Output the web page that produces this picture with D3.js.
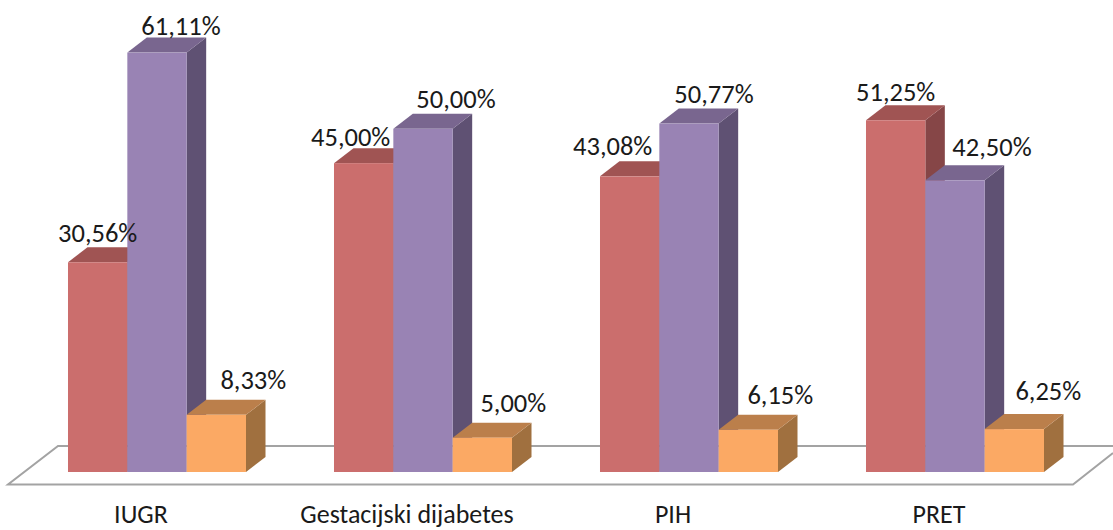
<!DOCTYPE html>
<html><head><meta charset="utf-8">
<style>html,body{margin:0;padding:0;background:#fff}svg{display:block}</style>
<script src="https://cdn.jsdelivr.net/npm/d3@7/dist/d3.min.js"></script></head>
<body><svg id="c" width="1113" height="530"></svg>
<script>
const categories = ["IUGR","Gestacijski dijabetes","PIH","PRET"];
const seriesNames = ["A","B","C"];
const seriesA = [30.56,45.00,43.08,51.25];
const seriesB = [61.11,50.00,50.77,42.50];
const seriesC = [8.33,5.00,6.15,6.25];
const seriesValues = [seriesA,seriesB,seriesC];
const faceColors = ["#cb6e6d","#9983b4","#fba964"];
const topColors = ["#a05453","#79668f","#bb7f4b"];
const sideColors = ["#864647","#5f5173","#a0703f"];

const svg = d3.select("#c");
const x = d3.scaleBand().domain(categories).range([24,1088]).paddingInner(0.3308).paddingOuter(0.1654);
const inner = d3.scaleBand().domain(seriesNames).range([0,x.bandwidth()]);
const y = d3.scaleLinear().domain([0,61.11]).range([472,52.6]);
const dx = 19.5, dy = -15;
const font = "Carlito, 'Open Sans', 'Noto Sans', sans-serif";

// floor
svg.append("path")
  .attr("d","M1113,446H58L8,484.5H1073L1113,453")
  .attr("fill","none").attr("stroke","#a3a3a3").attr("stroke-width",2);

// bars
categories.forEach((c,ci)=>{
  seriesNames.forEach((s,si)=>{
    const v = seriesValues[si][ci];
    const x0 = x(c)+inner(s), w = inner.bandwidth(), x1 = x0+w, yt = y(v), yb = y(0);
    const g = svg.append("g");
    g.append("path").attr("d",d3.line()([[x1,yt],[x1+dx,yt+dy],[x1+dx,yb+dy],[x1,yb]])).attr("fill",sideColors[si]);
    g.append("path").attr("d",d3.line()([[x0,yt],[x0+dx,yt+dy],[x1+dx,yt+dy],[x1,yt]])).attr("fill",topColors[si]);
    g.append("rect").attr("x",x0).attr("y",yt).attr("width",w).attr("height",yb-yt).attr("fill",faceColors[si]);
  });
});

// value labels: offset from the top-centre of each bar's front face
const labelDx = [[0,24,37],[-13,33,31],[-17,25,32],[0,37,34]];
const labelDy = [[-20,-18,-26],[-17,-21,-26],[-21,-21,-26],[-19,-24,-29]];
categories.forEach((c,ci)=>{
  seriesNames.forEach((s,si)=>{
    const v = seriesValues[si][ci];
    svg.append("text")
      .attr("x",x(c)+inner(s)+inner.bandwidth()/2+labelDx[ci][si])
      .attr("y",y(v)+labelDy[ci][si])
      .attr("text-anchor","middle").attr("font-family",font).attr("font-size",26.5).attr("fill","#1a1a1a")
      .text(v.toFixed(2).replace(".",",")+"%");
  });
});

// category labels
categories.forEach(c=>{
  svg.append("text").attr("x",x(c)+x.bandwidth()/2-16).attr("y",523)
    .attr("text-anchor","middle").attr("font-family",font).attr("font-size",26).attr("fill","#1a1a1a").text(c);
});
</script></body></html>
